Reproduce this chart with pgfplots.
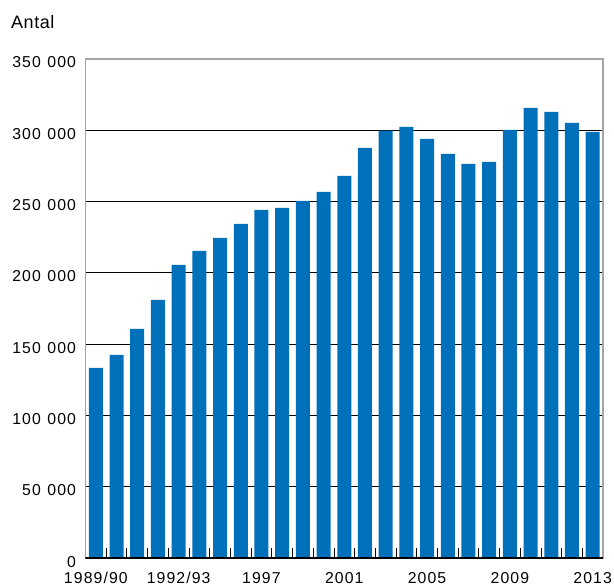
\documentclass[border=0pt]{standalone}
\usepackage{fontspec}
\setmainfont{Liberation Sans}[LetterSpace=7]
\newfontfamily\titlefont{Liberation Sans}[LetterSpace=3]
\usepackage{pgfplots}
\pgfplotsset{compat=1.18}
\definecolor{barblue}{RGB}{0,112,186}
\newcommand{\gs}{\hspace{6.5bp}}
\begin{document}
\begin{tikzpicture}
\path[use as bounding box] (-85.5bp,-28bp) rectangle (528.5bp,558bp);
\begin{axis}[
  at={(0,0)}, anchor=south west,
  scale only axis, width=517.5bp, height=499bp,
  xmin=-0.5, xmax=24.5, ymin=0, ymax=350000,
  ytick={0,50000,...,350000},
  yticklabels={0,50\gs000,100\gs000,150\gs000,200\gs000,250\gs000,300\gs000,350\gs000},
  xtick={0,4,8,12,16,20,24},
  xticklabels={1989/90,1992/93,1997,2001,2005,2009,2013},
  minor xtick={0.5,1.5,...,23.5},
  ymajorgrids, major grid style={black, line width=0.8bp},
  major tick length=0pt,
  minor tick length=10bp,
  tick align=inside,
  tick pos=left,
  minor tick style={black, line width=0.8bp},
  axis line style={draw=gray!70, line width=1.2bp},
  tick label style={font=\fontsize{15.8bp}{18bp}\selectfont, inner sep=0pt, outer sep=0pt},
  yticklabel style={anchor=base east, xshift=-9.5bp, yshift=-9bp},
  xticklabel style={anchor=base, yshift=-25.8bp},
  scaled y ticks=false,
]
\addplot[ybar, bar width=14bp, fill=barblue, draw=none] coordinates {
(0,133400) (1,142500) (2,160700) (3,181000) (4,205600) (5,215400)
(6,224500) (7,234400) (8,244200) (9,245600) (10,250500) (11,256800)
(12,268000) (13,287700) (14,299800) (15,302400) (16,294000) (17,283500)
(18,276400) (19,277800) (20,300300) (21,315700) (22,312900) (23,305200)
(24,298900)
};
\draw[black, line width=1.2bp] (rel axis cs:0,0) -- (rel axis cs:1,0);
\end{axis}
\node[anchor=base west, inner sep=0pt, font=\titlefont\fontsize{18bp}{20bp}\selectfont] at (-74.5bp,529bp) {Antal};
\end{tikzpicture}
\end{document}
